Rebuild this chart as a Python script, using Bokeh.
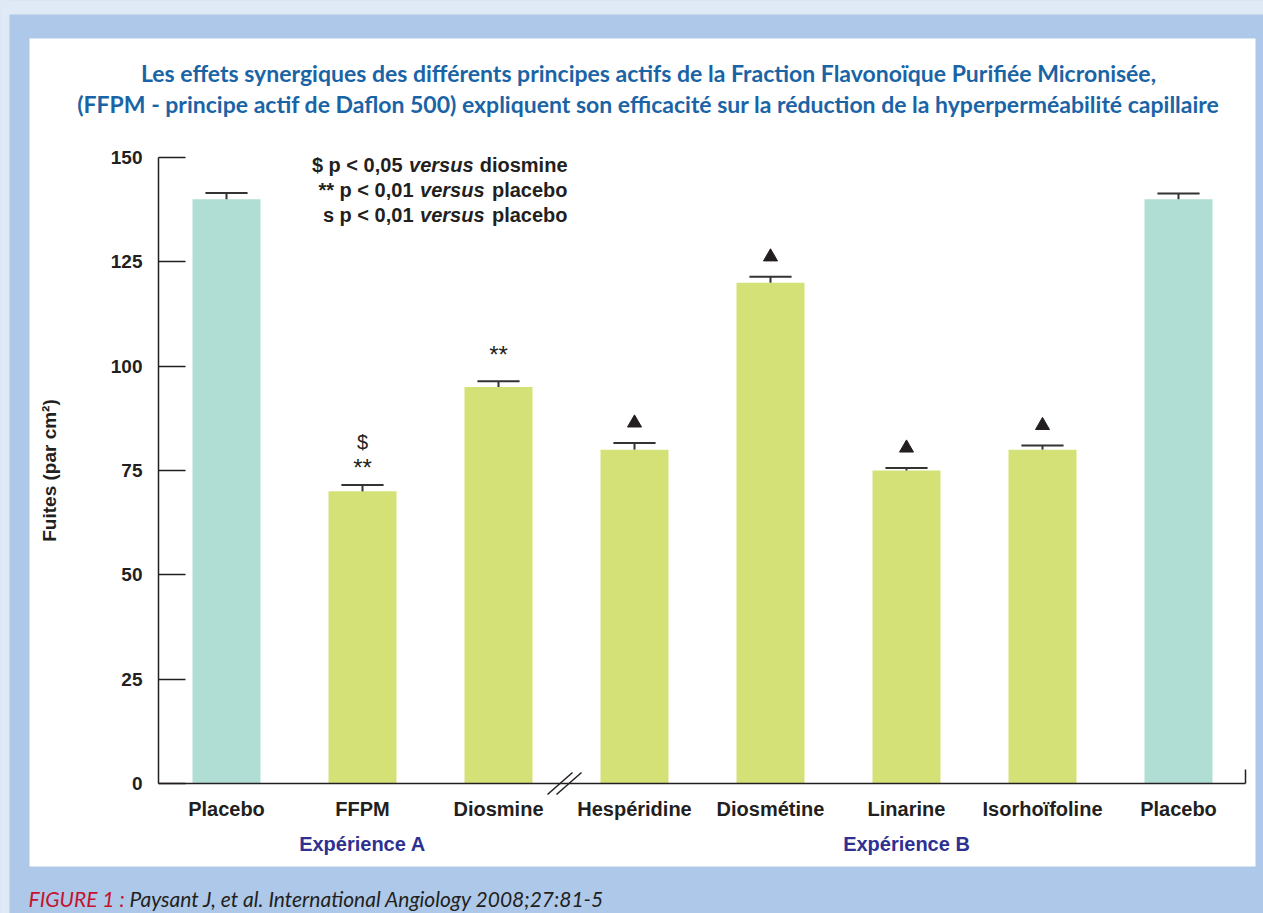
from bokeh.plotting import figure
from bokeh.models import Range1d, FixedTicker, BoxAnnotation, Label, Arrow, ColumnDataSource
from bokeh.core.properties import value
from bokeh.embed import file_html
from bokeh.resources import INLINE

# ---------------- data ----------------
categories = ["Placebo", "FFPM", "Diosmine", "Hespéridine", "Diosmétine",
              "Linarine", "Isorhoïfoline", "Placebo"]
values = [140, 70, 95, 80, 120, 75, 80, 140]
errors = [1.5, 1.5, 1.4, 1.6, 1.4, 0.6, 1.0, 1.4]
is_placebo = [True, False, False, False, False, False, False, True]
y_ticks = [0, 25, 50, 75, 100, 125, 150]
group_names = ["Expérience A", "Expérience B"]
group_members = [[0, 1, 2], [3, 4, 5, 6, 7]]
stars = ["", "**", "**", "", "", "", "", ""]
dollars = ["", "$", "", "", "", "", "", ""]
triangles = [False, False, False, True, True, True, True, False]
title_lines = [
    "Les effets synergiques des différents principes actifs de la Fraction Flavonoïque Purifiée Micronisée,",
    "(FFPM - principe actif de Daflon 500) expliquent son efficacité sur la réduction de la hyperperméabilité capillaire",
]
legend_lines = [("$ p < 0,05", "versus", "diosmine"),
                ("** p < 0,01", "versus", "placebo"),
                ("s p < 0,01", "versus", "placebo")]
y_label = "Fuites (par cm²)"
footer_red = "FIGURE 1 :"
footer_text = "Paysant J, et al. International Angiology 2008;27:81-5"

# ---------------- style / geometry ----------------
PLACEBO_COLOR = "#b1ded4"
ACTIVE_COLOR = "#d4e177"
BORDER_BLUE = "#adc8e8"
LIGHT_BLUE = "#e0eaf6"
TITLE_COLOR = "#1a64a6"
GROUP_COLOR = "#2e3192"
INK = "#231f20"
FONT = "Liberation Sans"

W, H = 1263, 913
AX_X, AX_Y = 158, 783           # pixel position of the axes corner
PPX = 136.0                     # pixels per category
PPY = 626.0 / 150.0             # pixels per unit


def dx(sx):
    return -0.5 + (sx - AX_X) / PPX


def dy(sy):
    return (AX_Y - sy) / PPY


p = figure(width=W, height=H, output_backend="svg", toolbar_location=None,
           x_range=Range1d(dx(0), dx(W)), y_range=Range1d(dy(H), dy(0)),
           min_border=0, tools="")
p.border_fill_color = BORDER_BLUE
p.background_fill_color = BORDER_BLUE
p.outline_line_color = None
p.grid.visible = False

# background panels (decoration)
p.add_layout(BoxAnnotation(left=dx(-5), right=dx(W + 5), top=dy(-5), bottom=dy(14),
                           fill_color=LIGHT_BLUE, fill_alpha=1, line_color=None, level="underlay"))
p.add_layout(BoxAnnotation(left=dx(-5), right=dx(9), top=dy(-5), bottom=dy(H + 5),
                           fill_color=LIGHT_BLUE, fill_alpha=1, line_color=None, level="underlay"))
p.add_layout(BoxAnnotation(left=dx(29), right=dx(1255), top=dy(38), bottom=dy(866),
                           fill_color="white", fill_alpha=1, line_color=None, level="underlay"))

xs = list(range(len(categories)))
src = ColumnDataSource(dict(
    x=xs, top=values, err_top=[v + e for v, e in zip(values, errors)],
    color=[PLACEBO_COLOR if pl else ACTIVE_COLOR for pl in is_placebo],
    cap_l=[x - 0.155 for x in xs], cap_r=[x + 0.155 for x in xs],
))
p.vbar(x="x", top="top", bottom=0, width=0.5, fill_color="color", line_color=None, source=src)
p.segment(x0="x", y0="top", x1="x", y1="err_top", line_color="#333333", line_width=2, source=src)
p.segment(x0="cap_l", y0="err_top", x1="cap_r", y1="err_top", line_color="#333333", line_width=2, source=src)

# significance marks
star_off = {1: 18, 2: 27}
sx_, sy_, st_ = [], [], []
for i, s in enumerate(stars):
    if s:
        sx_.append(i)
        sy_.append(values[i] + errors[i] + star_off.get(i, 20) / PPY)
        st_.append(s)
p.text(x=sx_, y=sy_, text=st_, text_align="center", text_baseline="middle",
       text_font=value(FONT), text_font_size="24px", text_color=INK)
dx_, dy_, dt_ = [], [], []
for i, s in enumerate(dollars):
    if s:
        dx_.append(i)
        dy_.append(values[i] + errors[i] + 43 / PPY)
        dt_.append(s)
p.text(x=dx_, y=dy_, text=dt_, text_align="center", text_baseline="middle",
       text_font=value(FONT), text_font_size="20px", text_color=INK)
tx_ = [i for i, t in enumerate(triangles) if t]
ty_ = [values[i] + errors[i] + 20 / PPY for i in tx_]
p.scatter(x=tx_, y=ty_, marker="triangle", size=14, fill_color=INK, line_color=INK)

# axes
p.yaxis.fixed_location = -0.5
p.yaxis.bounds = (0, 150)
p.yaxis.ticker = FixedTicker(ticks=y_ticks)
p.yaxis.minor_tick_line_color = None
p.yaxis.major_tick_in = 27
p.yaxis.major_tick_out = 0
p.yaxis.major_tick_line_width = 1.5
p.yaxis.major_tick_line_color = INK
p.yaxis.axis_line_color = INK
p.yaxis.axis_line_width = 1.5
p.yaxis.major_label_text_font = FONT
p.yaxis.major_label_text_font_style = "bold"
p.yaxis.major_label_text_font_size = "19px"
p.yaxis.major_label_text_color = INK
p.yaxis.major_label_standoff = 16
p.yaxis.axis_label = y_label
p.yaxis.axis_label_text_font = FONT
p.yaxis.axis_label_text_font_style = "bold"
p.yaxis.axis_label_text_font_size = "19px"
p.yaxis.axis_label_text_color = INK
p.yaxis.axis_label_standoff = 48

p.xaxis.fixed_location = 0
p.xaxis.bounds = (-0.5, dx(1245))
p.xaxis.ticker = FixedTicker(ticks=xs)
p.xaxis.major_label_overrides = {i: c for i, c in enumerate(categories)}
p.xaxis.minor_tick_line_color = None
p.xaxis.major_tick_in = 0
p.xaxis.major_tick_out = 0
p.xaxis.axis_line_color = INK
p.xaxis.axis_line_width = 1.5
p.xaxis.major_label_text_font = FONT
p.xaxis.major_label_text_font_style = "bold"
p.xaxis.major_label_text_font_size = "20px"
p.xaxis.major_label_text_color = INK
p.xaxis.major_label_standoff = 14

# axis break and right end tick (decoration)
for (x0, y0, x1, y1) in [(547, 794, 572, 772), (556, 794, 581, 772), (1245, 783, 1245, 769)]:
    p.add_layout(Arrow(end=None, x_start=dx(x0), y_start=dy(y0), x_end=dx(x1), y_end=dy(y1),
                       line_color=INK, line_width=1.5))

# group labels
for name, members in zip(group_names, group_members):
    p.add_layout(Label(x=sum(members) / len(members), y=dy(843), text=name,
                       text_align="center", text_baseline="middle", text_font=FONT,
                       text_font_style="bold", text_font_size="20px", text_color=GROUP_COLOR))

# title
for line, sy in zip(title_lines, [72, 103]):
    p.add_layout(Label(x=dx(648), y=dy(sy), text=line, text_align="center", text_baseline="middle",
                       text_font="Lato", text_font_style="bold", text_font_size="23px",
                       text_color=TITLE_COLOR))

# legend (significance key)
versus_right = [473, 484, 484]
for (a, b, c), cy, vr in zip(legend_lines, [164, 189, 214], versus_right):
    p.add_layout(Label(x=dx(vr - 71), y=dy(cy), text=a, text_align="right", text_baseline="middle",
                       text_font=FONT, text_font_style="bold", text_font_size="20px", text_color=INK))
    p.add_layout(Label(x=dx(vr), y=dy(cy), text=b, text_align="right", text_baseline="middle",
                       text_font=FONT, text_font_style="bold italic", text_font_size="20px", text_color=INK))
    p.add_layout(Label(x=dx(567), y=dy(cy), text=c, text_align="right", text_baseline="middle",
                       text_font=FONT, text_font_style="bold", text_font_size="20px", text_color=INK))

# footer
p.add_layout(Label(x=dx(28), y=dy(898), text=footer_red, text_align="left", text_baseline="middle",
                   text_font="Lato", text_font_style="italic", text_font_size="21px", text_color="#c4122f"))
p.add_layout(Label(x=dx(129), y=dy(898), text=footer_text, text_align="left", text_baseline="middle",
                   text_font="Lato", text_font_style="italic", text_font_size="21px", text_color=INK))

open("out.html", "w").write(file_html(p, INLINE))
